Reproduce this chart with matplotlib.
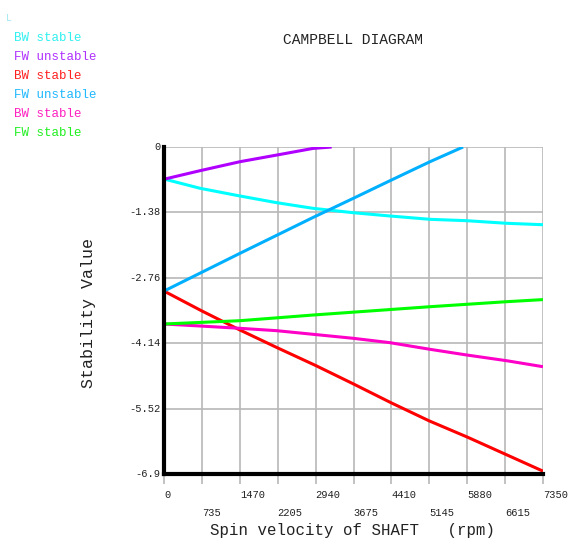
import matplotlib
matplotlib.use("Agg")
import matplotlib.pyplot as plt

# spin velocity (rpm) sample points and stability values
fw_unstable_1_rpm = [0, 698, 1474, 2186, 2889, 3252]
fw_unstable_1_val = [-0.68, -0.50, -0.31, -0.17, -0.03, 0.0]

bw_stable_1_rpm = [0, 698, 1474, 2186, 2890, 3666, 4383, 5159, 5871, 6647, 7350]
bw_stable_1_val = [-0.675, -0.871, -1.034, -1.175, -1.294, -1.386, -1.456, -1.526, -1.555, -1.610, -1.640]

bw_stable_2_rpm = [0, 735, 1470, 2205, 2940, 3675, 4410, 5145, 5880, 6615, 7350]
bw_stable_2_val = [-3.04, -3.46, -3.86, -4.24, -4.61, -5.00, -5.40, -5.78, -6.12, -6.48, -6.84]

fw_unstable_2_rpm = [0, 1474, 2896, 3672, 4383, 5159, 5800]
fw_unstable_2_val = [-3.04, -2.243, -1.484, -1.083, -0.711, -0.310, 0.0]

bw_stable_3_rpm = [0, 698, 1474, 2186, 2896, 3672, 4383, 5159, 5871, 6647, 7350]
bw_stable_3_val = [-3.735, -3.777, -3.826, -3.876, -3.953, -4.037, -4.129, -4.269, -4.389, -4.510, -4.636]

fw_stable_rpm = [0, 1474, 2896, 3801, 5159, 6647, 7350]
fw_stable_val = [-3.735, -3.665, -3.545, -3.475, -3.370, -3.264, -3.220]

legend_labels = ["BW stable", "FW unstable", "BW stable", "FW unstable", "BW stable", "FW stable"]
line_colors = ["#00ffff", "#b000ff", "#ff0000", "#00b0ff", "#ff00c8", "#00ff00"]
text_colors = ["#30f0f0", "#b030ff", "#ff2020", "#20b8ff", "#ff20c0", "#20f020"]

xticks = [0, 735, 1470, 2205, 2940, 3675, 4410, 5145, 5880, 6615, 7350]
yticks = [0, -1.38, -2.76, -4.14, -5.52, -6.9]
ytick_labels = ["0", "-1.38", "-2.76", "-4.14", "-5.52", "-6.9"]

mono = "Liberation Mono"

fig = plt.figure(figsize=(5.68, 5.39), dpi=100)
ax = fig.add_axes([164 / 568, 65 / 539, 379 / 568, 327 / 539])

series = [
    (bw_stable_1_rpm, bw_stable_1_val),
    (fw_unstable_1_rpm, fw_unstable_1_val),
    (bw_stable_2_rpm, bw_stable_2_val),
    (fw_unstable_2_rpm, fw_unstable_2_val),
    (bw_stable_3_rpm, bw_stable_3_val),
    (fw_stable_rpm, fw_stable_val),
]
for (xs, ys), c in zip(series, line_colors):
    ax.plot(xs, ys, color=c, linewidth=2.2, solid_capstyle="butt", zorder=3)

ax.set_xlim(0, 7350)
ax.set_ylim(-6.9, 0)

grid_c = "#b8b8b8"
for x in xticks[1:]:
    ax.axvline(x, color=grid_c, linewidth=1.2, zorder=1)
for y in yticks[:-1]:
    ax.axhline(y, color=grid_c, linewidth=1.2, zorder=1)

for s in ["top", "right"]:
    ax.spines[s].set_visible(False)
for s in ["left", "bottom"]:
    ax.spines[s].set_linewidth(3)
    ax.spines[s].set_color("black")
    ax.spines[s].set_zorder(4)

ax.set_xticks(xticks)
ax.set_xticklabels([])
ax.tick_params(axis="x", length=7, width=1.2, color=grid_c, direction="out")
ax.set_yticks(yticks)
ax.set_yticklabels([])
ax.tick_params(axis="y", length=0)

trans_x = ax.get_xaxis_transform()
for i, x in enumerate(xticks):
    ypos = -0.065 if i % 2 == 0 else -0.118
    ax.text(x, ypos, str(x), transform=trans_x, ha="left", va="center",
            fontsize=7.5, family=mono, color="#222222")

trans_y = ax.get_yaxis_transform()
for y, lab in zip(yticks, ytick_labels):
    ax.text(-0.01, y, lab, transform=trans_y, ha="right", va="center",
            fontsize=7.5, family=mono, color="#222222")

fig.text(353 / 568, 1 - 40 / 539, "CAMPBELL DIAGRAM", ha="center", va="center",
         fontsize=10.5, family=mono, color="#222222")
fig.text(353 / 568, 1 - 530 / 539, "Spin velocity of SHAFT   (rpm)", ha="center", va="center",
         fontsize=11.3, family=mono, color="#222222")
fig.text(88 / 568, 1 - 313 / 539, "Stability Value", ha="center", va="center",
         rotation=90, fontsize=12, family=mono, color="#222222")

for i, (lab, c) in enumerate(zip(legend_labels, text_colors)):
    fig.text(14 / 568, 1 - (38 + 19 * i) / 539, lab, ha="left", va="center",
             fontsize=9, family=mono, color=c)

fig.text(6 / 568, 1 - 18 / 539, "L", ha="left", va="center",
         fontsize=7, family=mono, color="#a0e8f0")

fig.savefig("out.png", dpi=100)
plt.close(fig)
